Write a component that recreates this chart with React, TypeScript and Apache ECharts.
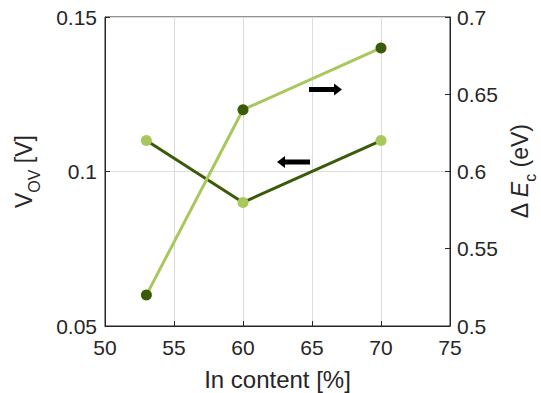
import React, { useEffect, useRef } from "react";
import * as echarts from "echarts";

const inContent = [53, 60, 70];
const vov = [0.11, 0.09, 0.11];
const deltaEc = [0.52, 0.64, 0.68];
const xTicks = { min: 50, max: 75, interval: 5 };
const leftTicks = { min: 0.05, max: 0.15, interval: 0.05 };
const rightTicks = { min: 0.5, max: 0.7, interval: 0.05 };

const DARK = "#3a5c08";
const LIGHT = "#a8c85e";
const AXIS = "#262626";
const FONT = "Liberation Sans, Arial, Helvetica, sans-serif";

const fmt = (v: number) => String(+v.toFixed(2));

export default function App() {
  const ref = useRef<HTMLDivElement>(null);
  useEffect(() => {
    if (!ref.current) return;
    const chart = echarts.init(ref.current, null, { renderer: "svg" });
    const axisLabel = { color: AXIS, fontSize: 21, fontFamily: FONT, formatter: fmt };
    const nameRich = {
      m: { fontSize: 23, fontFamily: FONT, color: AXIS, verticalAlign: "middle" },
      i: { fontSize: 23, fontFamily: FONT, color: AXIS, fontStyle: "italic", verticalAlign: "middle" },
      s: { fontSize: 16, fontFamily: FONT, color: AXIS, lineHeight: 36, verticalAlign: "bottom" },
    };
    chart.setOption({
      animation: false,
      backgroundColor: "#ffffff",
      grid: {
        left: 105,
        right: 91,
        top: 17,
        bottom: 67,
        outerBoundsMode: "none",
        containLabel: false,
        show: true,
        borderColor: AXIS,
        borderWidth: 1,
        backgroundColor: "transparent",
      },
      xAxis: {
        type: "value",
        ...xTicks,
        name: "In content [%]",
        nameLocation: "middle",
        nameGap: 41,
        nameTextStyle: { fontSize: 24, fontFamily: FONT, color: AXIS },
        axisLine: { show: true, lineStyle: { color: AXIS, width: 1 } },
        axisTick: { show: true, inside: true, length: 5, lineStyle: { color: AXIS } },
        axisLabel: { ...axisLabel, margin: 11 },
        splitLine: { show: true, lineStyle: { color: "#dcdcdc", width: 1 } },
      },
      yAxis: [
        {
          type: "value",
          position: "left",
          ...leftTicks,
          name: "{m|V}{s|OV}{m| [V]}",
          nameLocation: "middle",
          nameRotate: 90,
          nameGap: 63,
          nameTextStyle: { rich: nameRich },
          axisLine: { show: true, lineStyle: { color: AXIS, width: 1 } },
          axisTick: { show: true, inside: true, length: 5, lineStyle: { color: AXIS } },
          axisLabel: { ...axisLabel, margin: 8 },
          splitLine: { show: true, lineStyle: { color: "#dcdcdc", width: 1 } },
        },
        {
          type: "value",
          position: "right",
          ...rightTicks,
          name: "{m|Δ }{i|E}{s|c}{m| (eV)}",
          nameLocation: "middle",
          nameRotate: 90,
          nameGap: 50,
          nameTextStyle: { rich: nameRich },
          axisLine: { show: true, lineStyle: { color: AXIS, width: 1 } },
          axisTick: { show: true, inside: true, length: 5, lineStyle: { color: AXIS } },
          axisLabel: { ...axisLabel, margin: 7 },
          splitLine: { show: false },
        },
      ],
      series: [
        {
          type: "line",
          yAxisIndex: 0,
          data: inContent.map((x, i) => [x, vov[i]]),
          symbol: "circle",
          symbolSize: 11,
          showSymbol: true,
          lineStyle: { color: DARK, width: 3 },
          itemStyle: { color: LIGHT, borderWidth: 0 },
          z: 2,
        },
        {
          type: "line",
          yAxisIndex: 1,
          data: inContent.map((x, i) => [x, deltaEc[i]]),
          symbol: "circle",
          symbolSize: 11,
          showSymbol: true,
          lineStyle: { color: LIGHT, width: 3 },
          itemStyle: { color: DARK, borderWidth: 0 },
          z: 3,
        },
      ],
      graphic: [
        {
          type: "polygon",
          shape: {
            points: [
              [309, 87], [334, 87], [334, 83.5], [342, 89.5], [334, 95.5], [334, 92], [309, 92],
            ],
          },
          style: { fill: "#000000" },
          z: 10,
        },
        {
          type: "polygon",
          shape: {
            points: [
              [310, 159.5], [285, 159.5], [285, 156], [277, 162], [285, 168], [285, 164.5], [310, 164.5],
            ],
          },
          style: { fill: "#000000" },
          z: 10,
        },
      ],
    });
    return () => chart.dispose();
  }, []);
  return (
    <div
      ref={ref}
      style={{ position: "fixed", left: 0, top: 0, width: 541, height: 393, background: "#fff" }}
    />
  );
}
